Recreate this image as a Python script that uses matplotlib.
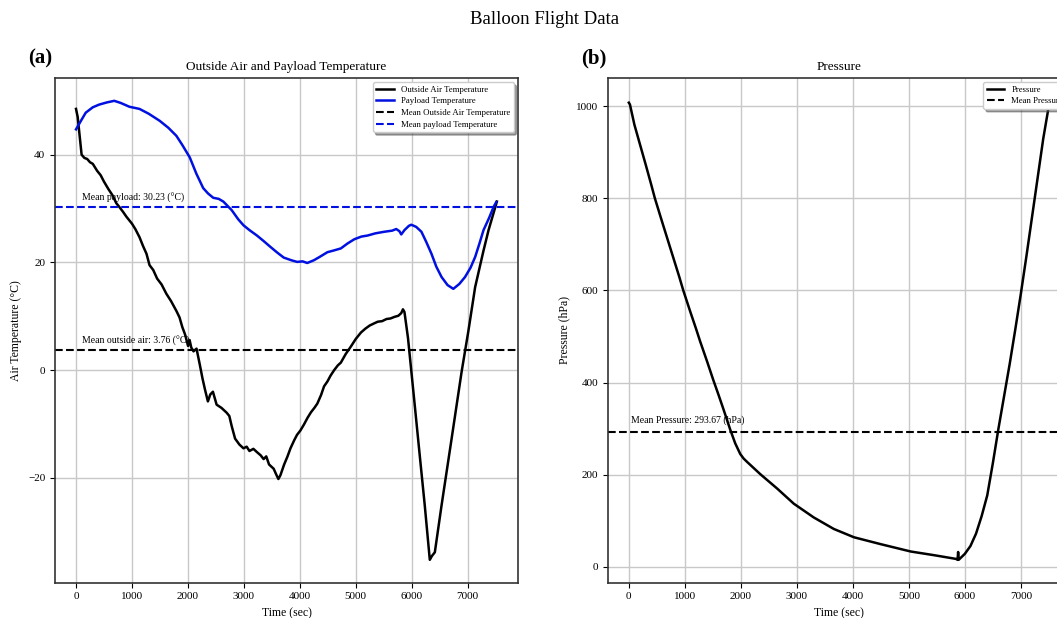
"""
Balloon flight data: outside air / payload temperature and pressure
"""

import numpy as np
import matplotlib
matplotlib.use("Agg")
import matplotlib.pyplot as plt

plt.rcParams['font.family'] = ['Liberation Serif', 'DejaVu Serif']

# outside air temperature (sec, degC)
t_air = [0, 30, 100, 150, 200, 250, 300, 378, 440, 500, 580, 650, 720, 774, 840,
         900, 1000, 1060, 1134, 1200, 1260, 1314, 1380, 1450, 1530, 1614, 1700,
         1794, 1850, 1900, 1950, 2003, 2030, 2060, 2100, 2154, 2213, 2260, 2303,
         2357, 2400, 2447, 2513, 2600, 2693, 2740, 2783, 2843, 2920, 2993, 3050,
         3100, 3170, 3233, 3300, 3353, 3400, 3450, 3533, 3580, 3617, 3653, 3720,
         3780, 3833, 3900, 3950, 4010, 4073, 4140, 4200, 4260, 4313, 4380, 4433,
         4493, 4550, 4613, 4680, 4733, 4820, 4913, 5000, 5093, 5170, 5250, 5330,
         5393, 5470, 5550, 5620, 5693, 5760, 5813, 5843, 5870, 5933, 6053, 6143,
         6233, 6323, 6360, 6413, 6533, 6713, 6893, 7013, 7133, 7283, 7373, 7522]
air_temp = [48.5, 47.0, 40.0, 39.4, 39.2, 38.6, 38.3, 37.0, 36.2, 35.0, 33.6, 32.5,
            31.0, 30.3, 29.4, 28.5, 27.2, 26.2, 24.7, 23.0, 21.6, 19.5, 18.6, 17.0,
            15.9, 14.2, 12.8, 11.0, 9.8, 8.0, 6.6, 4.5, 5.6, 4.2, 3.5, 4.0, 1.0,
            -1.5, -3.5, -5.8, -4.5, -4.0, -6.4, -7.0, -7.9, -8.5, -10.4, -12.7,
            -13.8, -14.5, -14.2, -15.0, -14.6, -15.2, -15.8, -16.5, -16.0, -17.5,
            -18.3, -19.4, -20.2, -19.5, -17.5, -16.0, -14.5, -13.0, -12.0, -11.2,
            -10.1, -8.8, -7.8, -7.0, -6.2, -4.6, -3.0, -2.1, -1.0, 0.0, 0.9, 1.4,
            3.0, 4.4, 5.8, 7.0, 7.7, 8.3, 8.7, 9.0, 9.1, 9.5, 9.6, 9.9, 10.1, 10.6,
            11.3, 10.8, 6.0, -6.4, -15.8, -25.1, -35.2, -34.5, -33.8, -25.1, -12.7,
            -0.2, 7.3, 15.4, 22.2, 26.0, 31.3]

# payload temperature (sec, degC)
t_pay = [0, 100, 174, 300, 414, 550, 684, 800, 954, 1134, 1300, 1494, 1650, 1794,
         1900, 2033, 2150, 2273, 2360, 2453, 2550, 2633, 2783, 2900, 2993, 3100,
         3233, 3350, 3473, 3600, 3713, 3850, 3953, 4050, 4133, 4250, 4350, 4493,
         4600, 4733, 4850, 4973, 5100, 5213, 5350, 5513, 5650, 5723, 5780, 5813,
         5870, 5950, 5993, 6080, 6173, 6260, 6353, 6440, 6533, 6640, 6743, 6850,
         6953, 7050, 7133, 7210, 7283, 7380, 7463, 7510]
pay_temp = [44.7, 46.5, 47.8, 48.8, 49.3, 49.7, 50.0, 49.6, 48.9, 48.5, 47.6, 46.3,
            45.0, 43.5, 41.8, 39.5, 36.5, 33.8, 32.8, 32.0, 31.8, 31.3, 29.7, 28.0,
            26.9, 26.0, 25.0, 24.0, 22.9, 21.8, 20.9, 20.4, 20.1, 20.2, 19.9, 20.4,
            21.0, 21.9, 22.2, 22.6, 23.5, 24.3, 24.8, 25.0, 25.4, 25.7, 25.9, 26.2,
            25.8, 25.2, 26.0, 26.8, 27.0, 26.6, 25.7, 23.8, 21.6, 19.2, 17.3, 15.8,
            15.1, 16.0, 17.3, 19.0, 21.0, 23.5, 26.0, 28.2, 30.3, 31.2]

# pressure (sec, hPa)
t_pres = [0, 20, 100, 200, 300, 400, 466, 600, 700, 800, 900, 973, 1100, 1200,
          1272, 1400, 1510, 1600, 1690, 1810, 1900, 1989, 2050, 2109, 2348, 2647,
          2945, 3303, 3661, 4020, 4498, 5036, 5454, 5842, 5870, 5880, 5890, 6000,
          6100, 6200, 6300, 6400, 6500, 6600, 6700, 6800, 6900, 7000, 7100, 7200,
          7300, 7400, 7515]
pressure = [1008, 1004, 960, 917, 874, 830, 800, 747, 708, 669, 630, 600, 553, 517,
            490, 445, 405, 374, 342, 298, 268, 245, 235, 228, 201, 170, 137, 107,
            82, 64, 49, 33, 25, 17, 15, 32, 15, 28, 45, 72, 110, 155, 225, 300, 370,
            440, 515, 593, 675, 760, 845, 930, 1012]

mean_air = 3.76
mean_pay = 30.23
mean_pres = 293.67


fig = plt.figure(figsize=(10.57, 6.18), dpi=100)
fig.text(0.515, 0.968, 'Balloon Flight Data', fontsize=13.5, ha='center', va='center')

# (a) temperatures
ax1 = fig.add_axes([0.052, 0.057, 0.438, 0.817])
ax1.plot(t_air, air_temp, color='black', lw=1.8, label='Outside Air Temperature')
ax1.plot(t_pay, pay_temp, color='#0010e0', lw=1.8, label='Payload Temperature')
ax1.axhline(mean_air, color='black', ls='--', lw=1.5, label='Mean Outside Air Temperature')
ax1.axhline(mean_pay, color='#0010e0', ls='--', lw=1.5, label='Mean payload Temperature')
ax1.text(100, mean_pay + 1.2, f'Mean payload: {mean_pay:.2f} (°C)', fontsize=7)
ax1.text(100, mean_air + 1.2, f'Mean outside air: {mean_air:.2f} (°C)', fontsize=7)
ax1.set_title('Outside Air and Payload Temperature', fontsize=9.5)
ax1.set_xlabel('Time (sec)', fontsize=8.5)
ax1.set_ylabel('Air Temperature (°C)', fontsize=8.5)
ax1.set_yticks([-20, 0, 20, 40])
ax1.grid(True, color='#c8c8c8', lw=1)
ax1.legend(loc='upper right', fontsize=6.3, shadow=True, labelspacing=0.4)
ax1.text(-0.057, 1.018, '(a)', transform=ax1.transAxes, fontsize=15,
         fontweight='bold', va='bottom')

# (b) pressure
ax2 = fig.add_axes([0.575, 0.057, 0.438, 0.817])
ax2.plot(t_pres, pressure, color='black', lw=1.8, label='Pressure')
ax2.axhline(mean_pres, color='black', ls='--', lw=1.5, label='Mean Pressure')
ax2.text(40, mean_pres + 20, f'Mean Pressure: {mean_pres:.2f} (hPa)', fontsize=7)
ax2.set_title('Pressure', fontsize=9.5)
ax2.set_xlabel('Time (sec)', fontsize=8.5)
ax2.set_ylabel('Pressure (hPa)', fontsize=8.5)
ax2.grid(True, color='#c8c8c8', lw=1)
ax2.legend(loc='upper right', fontsize=6.3, shadow=True, labelspacing=0.4)
ax2.text(-0.057, 1.018, '(b)', transform=ax2.transAxes, fontsize=15,
         fontweight='bold', va='bottom')

for ax in (ax1, ax2):
    ax.tick_params(labelsize=8)
    for s in ax.spines.values():
        s.set_color('#333333')
        s.set_linewidth(1.2)

fig.savefig('out.png', dpi=100)
